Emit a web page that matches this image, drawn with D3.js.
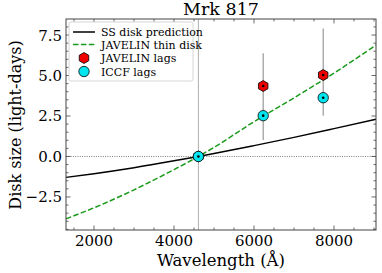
<!DOCTYPE html>
<html><head><meta charset="utf-8">
<script src="https://cdn.jsdelivr.net/npm/d3@7"></script>
<style>body{margin:0;background:#fff}svg{display:block}text{font-family:"DejaVu Serif",serif}</style>
</head><body><svg id="c" width="382" height="273"></svg>
<script>
// Data
const wavelength = [1300, 2000, 3000, 4000, 4610, 5000, 6000, 7000, 8000, 9050];
const ssDisk = [-1.29, -1.06, -0.69, -0.27, 0, 0.18, 0.67, 1.18, 1.72, 2.30];
const javelinDisk = [-3.85, -3.17, -2.06, -0.81, 0, 0.56, 2.15, 3.62, 5.15, 6.88];
const lagWave = [4610, 6230, 7730];
const javelinLag = [0, 4.35, 5.03];
const javelinLo = [0, 3.4, 4.0];
const javelinHi = [0, 6.37, 7.91];
const iccfLag = [0, 2.52, 3.63];
const iccfLo = [0, 1.02, 2.52];
const iccfHi = [0, 4.0, 4.7];
const xTicks = [2000, 4000, 6000, 8000];
const yTicks = [-2.5, 0.0, 2.5, 5.0, 7.5];
const legendLabels = ["SS disk prediction", "JAVELIN thin disk", "JAVELIN lags", "ICCF lags"];

const svg = d3.select("#c");
const L = 66, R = 376, T = 19, B = 230;
const x = d3.scaleLinear().domain([1300, 9050]).range([L, R]);
const y = d3.scaleLinear().domain([-4.54, 8.49]).range([B, T]);

const g = svg.append("g");
// reference lines
g.append("line").attr("x1", x(4610)).attr("x2", x(4610)).attr("y1", T).attr("y2", B)
  .attr("stroke", "#999").attr("stroke-width", 0.8);
g.append("line").attr("x1", L).attr("x2", R).attr("y1", y(0)).attr("y2", y(0))
  .attr("stroke", "#444").attr("stroke-width", 0.7).attr("stroke-dasharray", "1,1.3");

const line = d3.line().x((d, i) => x(wavelength[i])).y(d => y(d)).curve(d3.curveMonotoneX);
g.append("path").attr("d", line(ssDisk)).attr("fill", "none").attr("stroke", "#000").attr("stroke-width", 1.5);
g.append("path").attr("d", line(javelinDisk)).attr("fill", "none").attr("stroke", "#1a9a1a").attr("stroke-width", 1.5).attr("stroke-dasharray", "5.5,2.4");

// error bars
lagWave.forEach((w, i) => {
  const lo = Math.min(javelinLo[i], iccfLo[i]), hi = Math.max(javelinHi[i], iccfHi[i]);
  if (hi > lo) g.append("line").attr("x1", x(w)).attr("x2", x(w)).attr("y1", y(lo)).attr("y2", y(hi))
    .attr("stroke", "#999").attr("stroke-width", 1.2);
});
const hex = d3.symbol().type({draw(ctx, size){const r=Math.sqrt(size);for(let k=0;k<6;k++){const a=Math.PI/2+k*Math.PI/3;const px=r*Math.cos(a),py=-r*Math.sin(a);k?ctx.lineTo(px,py):ctx.moveTo(px,py);}ctx.closePath();}}).size(30);
lagWave.forEach((w, i) => {
  g.append("path").attr("d", hex()).attr("transform", `translate(${x(w)},${y(javelinLag[i])})`)
    .attr("fill", "#ee0000").attr("stroke", "#000").attr("stroke-width", 0.8);
  g.append("circle").attr("cx", x(w)).attr("cy", y(javelinLag[i])).attr("r", 1.3).attr("fill", "#000");
});
lagWave.forEach((w, i) => {
  g.append("circle").attr("cx", x(w)).attr("cy", y(iccfLag[i])).attr("r", 5.2)
    .attr("fill", "#00e5ee").attr("stroke", "#000").attr("stroke-width", 0.8);
  g.append("circle").attr("cx", x(w)).attr("cy", y(iccfLag[i])).attr("r", 1.3).attr("fill", "#000");
});

// axes with inward ticks on all sides
const minorX = d3.range(1500, 9051, 500).filter(v => v % 2000 !== 0);
const minorY = d3.range(-4.5, 8.5, 0.5).filter(v => Math.abs((v / 2.5) - Math.round(v / 2.5)) > 1e-6);
const tickG = svg.append("g").attr("stroke", "#444").attr("stroke-width", 0.8);
function vt(v, len) { tickG.append("line").attr("x1", x(v)).attr("x2", x(v)).attr("y1", B).attr("y2", B - len);
  tickG.append("line").attr("x1", x(v)).attr("x2", x(v)).attr("y1", T).attr("y2", T + len); }
function ht(v, len) { tickG.append("line").attr("y1", y(v)).attr("y2", y(v)).attr("x1", L).attr("x2", L + len);
  tickG.append("line").attr("y1", y(v)).attr("y2", y(v)).attr("x1", R).attr("x2", R - len); }
xTicks.forEach(v => vt(v, 4.5)); minorX.forEach(v => vt(v, 2.5));
yTicks.forEach(v => ht(v, 4.5)); minorY.forEach(v => ht(v, 2.5));
svg.append("rect").attr("x", L).attr("y", T).attr("width", R - L).attr("height", B - T)
  .attr("fill", "none").attr("stroke", "#444").attr("stroke-width", 1);

xTicks.forEach(v => svg.append("text").attr("x", x(v)).attr("y", 246).attr("text-anchor", "middle")
  .attr("font-size", 15).text(v));
yTicks.forEach(v => svg.append("text").attr("x", 62).attr("y", y(v) + 5.5).attr("text-anchor", "end")
  .attr("font-size", 15).text(v.toFixed(1).replace("-", "\u2212")));

svg.append("text").attr("x", 221).attr("y", 266).attr("text-anchor", "middle").attr("font-size", 16.5).text("Wavelength (Å)");
svg.append("text").attr("transform", `translate(21,125) rotate(-90)`).attr("text-anchor", "middle").attr("font-size", 16).text("Disk size (light-days)");
svg.append("text").attr("x", 221).attr("y", 15).attr("text-anchor", "middle").attr("font-size", 17.5).text("Mrk 817");

// legend
const lg = svg.append("g");
lg.append("rect").attr("x", 69).attr("y", 22).attr("width", 124).attr("height", 59).attr("rx", 2)
  .attr("fill", "#fff").attr("stroke", "#ccc").attr("stroke-width", 0.8);
const ly = [32, 44.5, 58, 71.5];
lg.append("line").attr("x1", 73).attr("x2", 95).attr("y1", ly[0]).attr("y2", ly[0]).attr("stroke", "#000").attr("stroke-width", 1.5);
lg.append("line").attr("x1", 73).attr("x2", 95).attr("y1", ly[1]).attr("y2", ly[1]).attr("stroke", "#1a9a1a").attr("stroke-width", 1.5).attr("stroke-dasharray", "5.5,2.4");
lg.append("path").attr("d", hex()).attr("transform", `translate(84,${ly[2]})`).attr("fill", "#ee0000").attr("stroke", "#000").attr("stroke-width", 0.8);
lg.append("circle").attr("cx", 84).attr("cy", ly[3]).attr("r", 5.2).attr("fill", "#00e5ee").attr("stroke", "#000").attr("stroke-width", 0.8);
legendLabels.forEach((t, i) => lg.append("text").attr("x", 101).attr("y", ly[i] + 4).attr("font-size", 11).text(t));
</script></body></html>
